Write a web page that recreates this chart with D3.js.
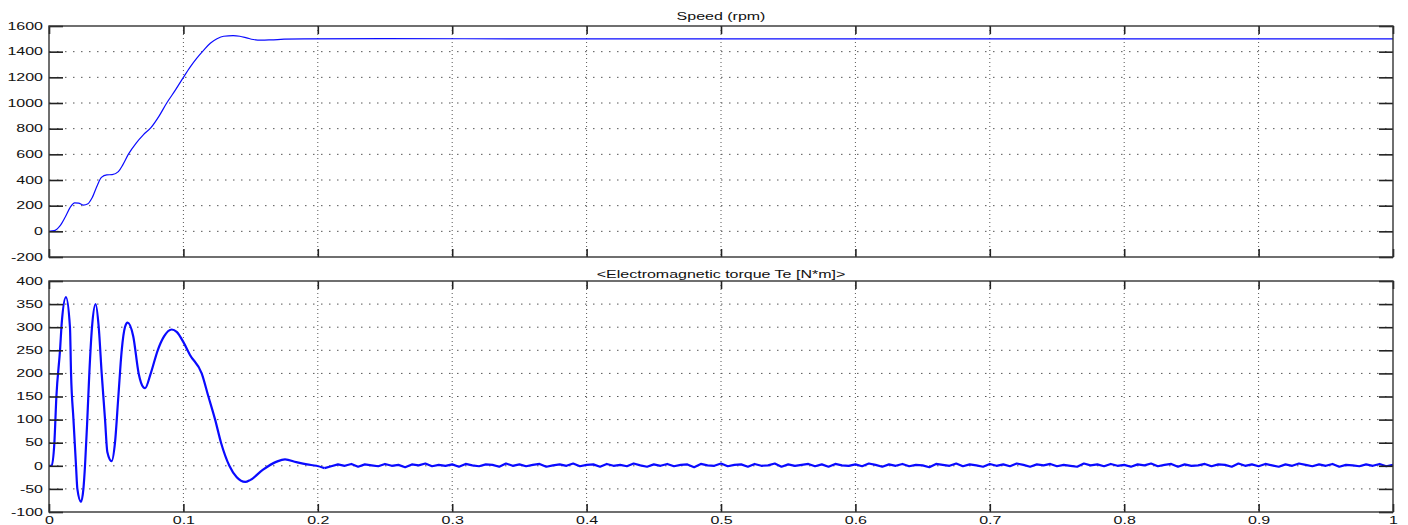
<!DOCTYPE html>
<html><head><meta charset="utf-8">
<script src="https://cdn.jsdelivr.net/npm/d3@7"></script>
<style>
html,body{margin:0;padding:0;background:#fff;}
svg{display:block;}
</style></head>
<body>
<svg id="chart" width="1408" height="525"></svg>
<script>
// ---------- data ----------
const xTicks = [0,0.1,0.2,0.3,0.4,0.5,0.6,0.7,0.8,0.9,1];
const xTickLabels = ["0","0.1","0.2","0.3","0.4","0.5","0.6","0.7","0.8","0.9","1"];
const speedTicks = [-200,0,200,400,600,800,1000,1200,1400,1600];
const torqueTicks = [-100,-50,0,50,100,150,200,250,300,350,400];

const speedTitle = "Speed (rpm)";
const torqueTitle = "<Electromagnetic torque Te [N*m]>";

const speedT = [0,0.004,0.008,0.012,0.016,0.019,0.022,0.0255,0.029,0.032,0.036,0.039,0.043,0.047,0.0516,0.055,0.059,0.065,0.070,0.076,0.082,0.0876,0.094,0.1,0.105,0.110,0.115,0.120,0.125,0.130,0.137,0.142,0.147,0.152,0.158,0.165,0.175,0.19,0.25,0.4,0.6,0.8,1.0];
const speedV = [0,5,40,110,190,222,220,205,215,260,360,420,440,442,465,520,600,690,750,810,900,1000,1100,1200,1280,1350,1410,1465,1500,1520,1525,1520,1508,1495,1490,1492,1497,1500,1501,1500,1500,1500,1500];

// transient part of the torque
const torqueT = [0,0.002,0.004,0.0055,0.0082,0.0095,0.0126,0.0156,0.0164,0.0182,0.0201,0.0211,0.0238,0.0256,0.0268,0.0285,0.030,0.032,0.0347,0.037,0.0392,0.0417,0.0434,0.0466,0.0491,0.0516,0.0541,0.0565,0.0585,0.0627,0.0667,0.0702,0.0715,0.0757,0.0809,0.0856,0.0913,0.0950,0.1005,0.1049,0.1136,0.1186,0.1236,0.128,0.1342,0.1397,0.146,0.1496,0.159,0.1694,0.1756,0.184,0.192,0.199,0.205];
const torqueV = [0,0,50,150,250,310,365,300,200,100,0,-50,-78,-50,0,100,200,300,350,300,200,100,30,10,50,150,250,300,310,280,200,170,168,200,250,280,295,290,265,240,200,150,100,50,0,-25,-35,-31,-9,9,14,8,3,0,-5];
// steady-state ripple, one value every 0.005 s from 0.205 s
const rippleStart = 0.205, rippleStep = 0.005;
const torqueRipple = [-5,-1,3,0,4,-2,3,1,-1,4,0,2,-3,3,1,5,-1,2,0,3,-2,4,1,-1,3,2,-2,5,0,3,-1,2,4,-2,1,3,0,5,-1,2,
3,-2,4,0,2,-1,5,1,-2,3,0,4,-1,2,3,-3,4,1,0,5,-1,2,3,-2,4,0,1,5,-2,3,0,2,4,-1,3,-2,4,1,0,3,
-1,5,2,-2,3,0,4,-1,2,1,-3,4,2,0,5,-1,3,1,-2,4,0,3,-1,5,2,-2,3,1,4,-1,2,0,-2,5,1,3,-1,4,0,2,
-2,3,1,5,-1,2,4,-2,3,0,1,4,-1,3,2,-2,5,0,3,-1,4,1,-2,3,0,5,2,-1,3,0,4,-2,2,1,-1,3,0,4,-1,2];

// ---------- layout ----------
const left = 49, right = 1393;
const panels = [
  {top:26, bottom:257, ticks:speedTicks, dom:[-200,1600], title:speedTitle, titleY:20, xLabels:false,
   series:[{pts: speedT.map((t,i)=>[t,speedV[i]]), curve:d3.curveMonotoneX}], width:1.2},
  {top:281, bottom:512, ticks:torqueTicks, dom:[-100,400], title:torqueTitle, titleY:278, xLabels:true,
   series:[{pts: torqueT.map((t,i)=>[t,torqueV[i]]), curve:d3.curveMonotoneX},
           {pts: torqueRipple.map((v,i)=>[rippleStart+i*rippleStep, v]), curve:d3.curveLinear}], width:2.2}
];

const svg = d3.select("#chart");
const FONT = "'Liberation Sans', Arial, sans-serif";
const SX = 1.6;
const x = d3.scaleLinear().domain([0,1]).range([left,right]);

panels.forEach(p => {
  const y = d3.scaleLinear().domain(p.dom).range([p.bottom,p.top]);
  const g = svg.append("g");

  // grid
  g.append("g").selectAll("line").data(p.ticks.filter(v=>v!==p.dom[0] && v!==p.dom[1])).join("line")
    .attr("x1",left).attr("x2",right).attr("y1",d=>y(d)).attr("y2",d=>y(d))
    .attr("stroke","#555").attr("stroke-width",1).attr("stroke-dasharray","1.5,6.5");
  g.append("g").selectAll("line").data(xTicks.filter(v=>v!==0 && v!==1)).join("line")
    .attr("y1",p.top).attr("y2",p.bottom).attr("x1",d=>x(d)).attr("x2",d=>x(d))
    .attr("stroke","#555").attr("stroke-width",1).attr("stroke-dasharray","1,3");

  // data lines
  p.series.forEach(s => {
    const line = d3.line().x(d=>x(d[0])).y(d=>y(d[1])).curve(s.curve);
    g.append("path").datum(s.pts).attr("d",line).attr("fill","none")
      .attr("stroke","#0a0aff").attr("stroke-width",p.width).attr("stroke-linejoin","round");
  });

  // axes (inward ticks)
  const yl = g.append("g").attr("transform",`translate(${left},0)`)
    .call(d3.axisLeft(y).tickValues(p.ticks).tickSize(-14).tickPadding(6).tickFormat(d=>String(d)));
  const yr = g.append("g").attr("transform",`translate(${right},0)`)
    .call(d3.axisRight(y).tickValues(p.ticks).tickSize(-14).tickFormat(""));
  const xt = g.append("g").attr("transform",`translate(0,${p.top})`)
    .call(d3.axisTop(x).tickValues(xTicks).tickSize(-8).tickFormat(""));
  const xb = g.append("g").attr("transform",`translate(0,${p.bottom})`)
    .call(d3.axisBottom(x).tickValues(xTicks).tickSize(-8).tickPadding(5)
      .tickFormat((d,i)=> p.xLabels ? xTickLabels[i] : ""));
  [yl,yr,xt,xb].forEach(a=>{
    a.select(".domain").remove();
    a.selectAll(".tick line").attr("stroke","#222").attr("stroke-width",1.6);
    a.selectAll(".tick text").attr("font-family",FONT).attr("font-size",10).attr("fill","#111")
      .each(function(){
        const t = d3.select(this);
        const tx = +t.attr("x") || 0;
        t.attr("transform",`translate(${tx},0) scale(${SX},1)`).attr("x",0);
      });
  });

  // frame
  g.append("rect").attr("x",left).attr("y",p.top).attr("width",right-left).attr("height",p.bottom-p.top)
    .attr("fill","none").attr("stroke","#333").attr("stroke-width",1.4);

  // title
  g.append("text").attr("transform",`translate(${(left+right)/2},${p.titleY}) scale(${SX},1)`)
    .attr("text-anchor","middle").attr("font-family",FONT).attr("font-size",10).attr("fill","#111")
    .text(p.title);
});
</script>
</body></html>
